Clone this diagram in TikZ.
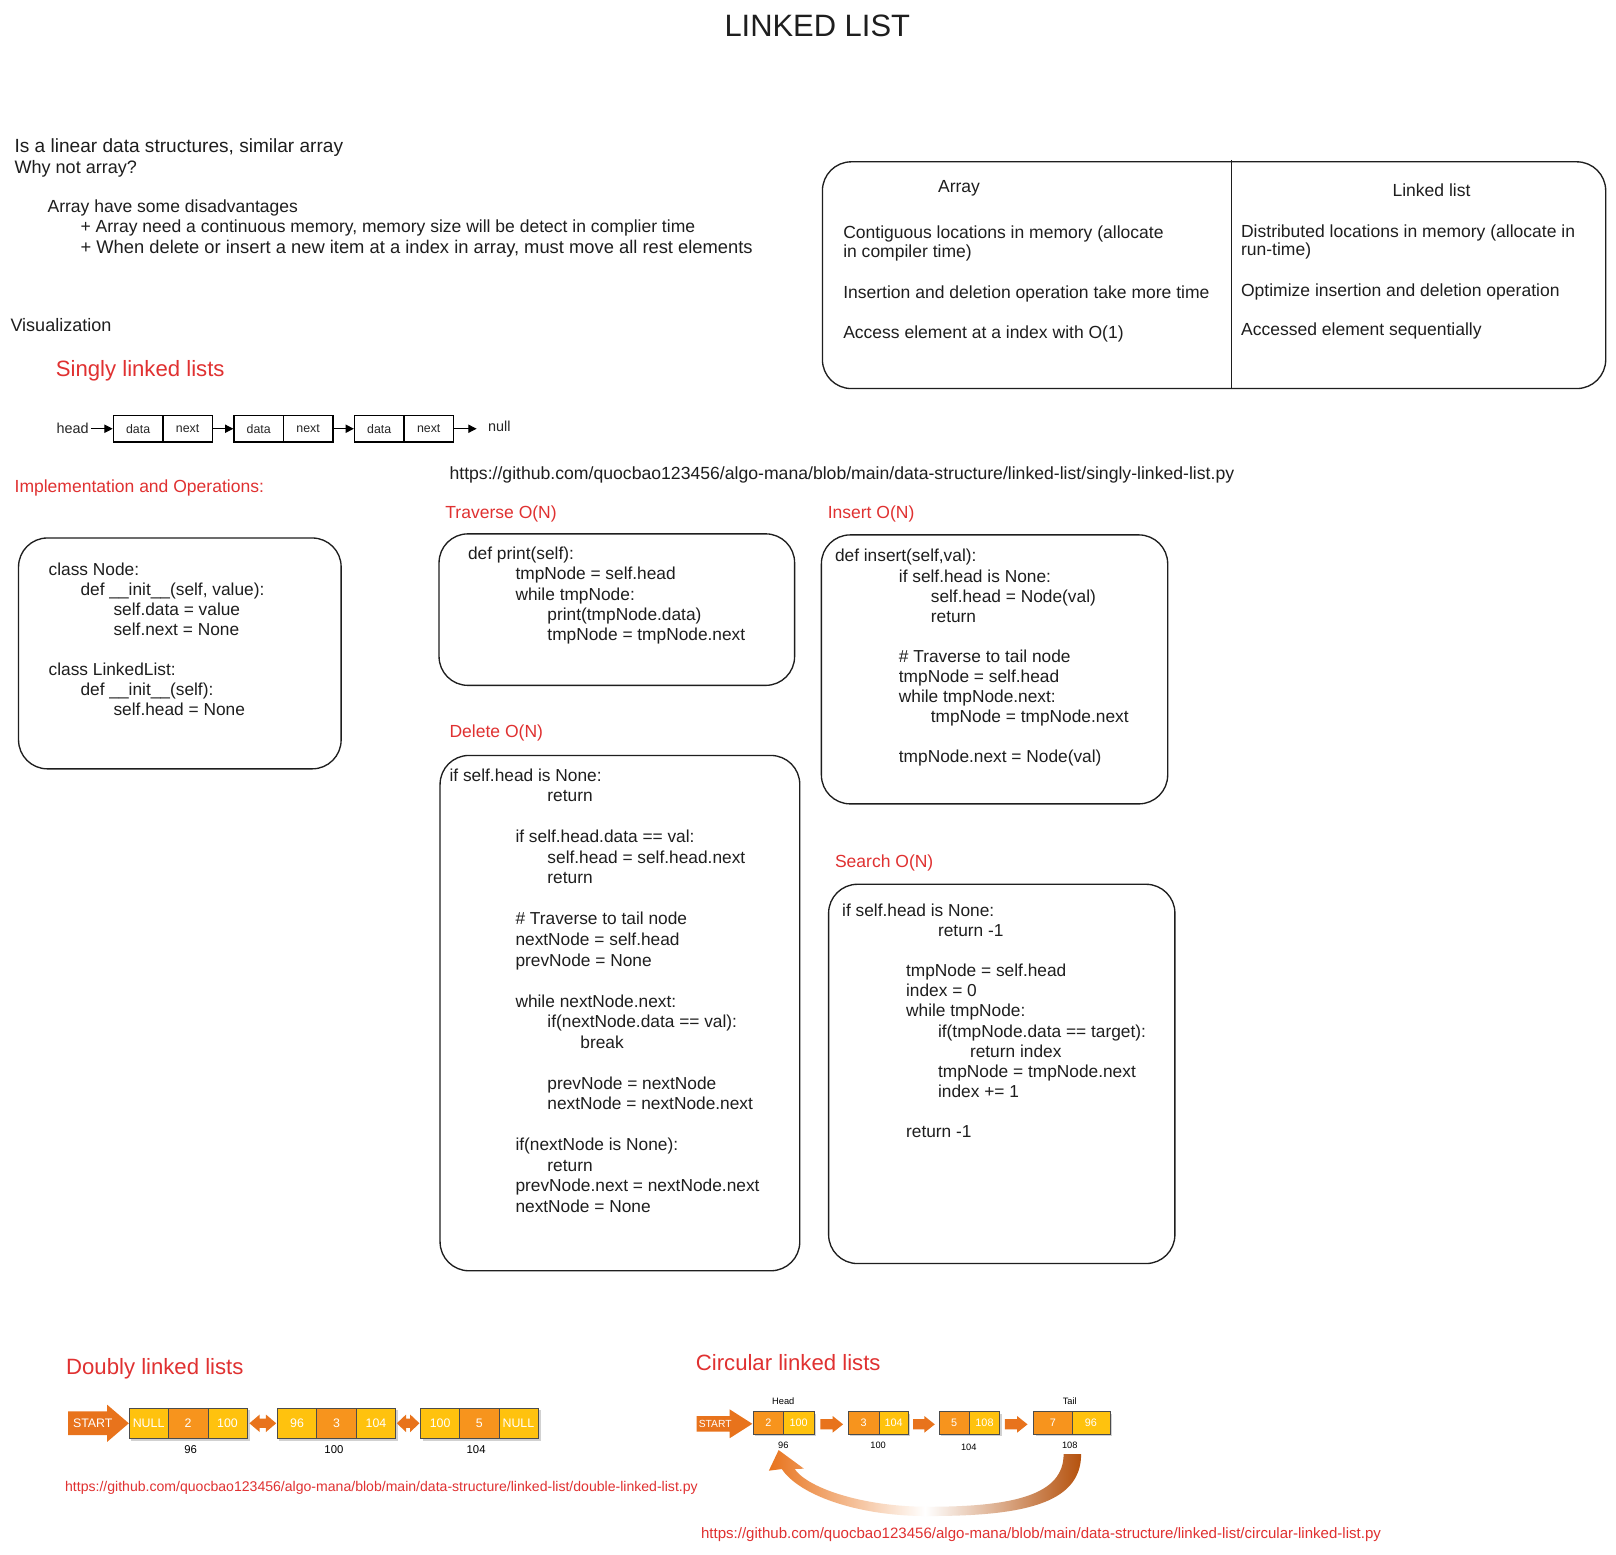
\documentclass[tikz,border=0pt]{standalone}
\usepackage{fontspec}
\setmainfont{Liberation Sans}
\usetikzlibrary{arrows.meta}
\definecolor{exred}{HTML}{E03131}
\definecolor{ink}{HTML}{1E1E1E}
\definecolor{llyellow}{HTML}{FFC20E}
\definecolor{llorange}{HTML}{F7941D}
\definecolor{llarrow}{HTML}{E8731C}
\definecolor{lldark}{HTML}{B5520E}
\newcommand{\fs}[2]{\fontsize{#1}{#2}\selectfont}
\newcommand{\ind}[1]{\hspace*{#1pt}}
% block arrow: x1, xtip, yc, halfbody, halfhead, headlen
\newcommand{\barrow}[6]{\fill[llarrow] (#1,{#3-#4}) -- ({#2-#6},{#3-#4}) -- ({#2-#6},{#3-#5}) -- (#2,#3) -- ({#2-#6},{#3+#5}) -- ({#2-#6},{#3+#4}) -- (#1,{#3+#4}) -- cycle;}
\newcommand{\dbarrow}[6]{\fill[llarrow] (#1,#3) -- ({#1+#6},{#3-#5}) -- ({#1+#6},{#3-#4}) -- ({#2-#6},{#3-#4}) -- ({#2-#6},{#3-#5}) -- (#2,#3) -- ({#2-#6},{#3+#5}) -- ({#2-#6},{#3+#4}) -- ({#1+#6},{#3+#4}) -- ({#1+#6},{#3+#5}) -- cycle;}
\tikzset{
 txt/.style={anchor=base west, inner sep=0pt, text=ink, font=\fs{17.5}{20}},
 tbl/.style={anchor=base west, inner sep=0pt, text=ink, font=\fs{17}{20}},
 redlbl/.style={anchor=base west, inner sep=0pt, text=exred, font=\fs{17}{20}},
 bigred/.style={anchor=base west, inner sep=0pt, text=exred, font=\fs{21.5}{24}},
 codeblk/.style={anchor=north west, inner sep=0pt, align=left, text=ink, font=\fs{16.8}{19.5}},
 panel/.style={draw=ink, line width=1.3pt, rounded corners=28pt},
 scell/.style={draw=black, line width=1.3pt, minimum width=48pt, minimum height=26pt, inner sep=0pt, font=\fs{12}{14}, text=black!85},
 sarrow/.style={-{Triangle[length=8pt,width=8pt]}, line width=1pt, black},
 ycell/.style={fill=llyellow, draw=black!70, line width=0.6pt, text=white, inner sep=0pt, minimum height=30pt, font=\fs{12}{14}},
 ocell/.style={ycell, fill=llorange},
 cycell/.style={ycell, minimum height=22pt, font=\fs{10.5}{12}},
 cocell/.style={cycell, fill=llorange},
 small/.style={inner sep=0pt, text=black, font=\fs{11}{13}},
 tiny/.style={inner sep=0pt, text=black, font=\fs{9}{11}},
}
\begin{document}
\begin{tikzpicture}[x=1pt,y=-1pt]
\fill[white] (0,0) rectangle (1568,1508);
\useasboundingbox (0,0) rectangle (1568,1508);

% title
\node[inner sep=0pt, text=ink, font=\fs{30}{34}] (title) at (793,25) {LINKED LIST};

% intro
\node[txt, font=\fs{18.5}{20}] (t1) at (14,148) {Is a linear data structures, similar array};
\node[txt] (t2) at (14,168) {Why not array?};
\node[txt, font=\fs{17}{20}] (t3) at (46,206) {Array have some disadvantages};
\node[txt, font=\fs{17}{20}] (t4) at (78,226) {+ Array need a continuous memory, memory size will be detect in complier time};
\node[txt, font=\fs{17.8}{20}] (t5) at (78,246) {+ When delete or insert a new item at a index in array, must move all rest elements};
\node[txt] (vis) at (10,322) {Visualization};
\node[bigred] (singly) at (54,365) {Singly linked lists};

% comparison table
\draw[panel] (798,157) rectangle (1558,377);
\draw[ink, line width=1.3pt] (1195,155) -- (1195,377);
\node[tbl] (a0) at (910,187) {Array};
\node[tbl] (a1) at (818,231) {Contiguous locations in memory (allocate};
\node[tbl] (a2) at (818,250) {in compiler time)};
\node[tbl] (a3) at (818,290) {Insertion and deletion operation take more time};
\node[tbl] (a4) at (818,328) {Access element at a index with O(1)};
\node[tbl] (l0) at (1351,191) {Linked list};
\node[tbl] (l1) at (1204,230) {Distributed locations in memory (allocate in};
\node[tbl] (l2) at (1204,248) {run-time)};
\node[tbl] (l3) at (1204,288) {Optimize insertion and deletion operation};
\node[tbl] (l4) at (1204,326) {Accessed element sequentially};

% singly linked list
\node[inner sep=2pt, font=\fs{14}{16}, text=black!85] (head) at (70.5,416) {head};
\node[scell] (d1) at (134,416) {data};
\node[scell] (n1) at (182,416) {next};
\node[scell] (d2) at (251,416) {data};
\node[scell] (n2) at (299,416) {next};
\node[scell] (d3) at (368,416) {data};
\node[scell] (n3) at (416,416) {next};
\node[inner sep=1.5pt, font=\fs{14}{16}, text=black!85] (null) at (484.5,414) {null};
\draw[sarrow] (head.east) -- (d1.west);
\draw[sarrow] (n1.east) -- (d2.west);
\draw[sarrow] (n2.east) -- (d3.west);
\draw[sarrow, shorten >=9.5pt] (n3.east) -- (null.west |- n3.east);

\node[redlbl] (impl) at (14,478) {Implementation and Operations:};
\node[txt, font=\fs{17.1}{20}] (url1) at (436,465) {https://github.com/quocbao123456/algo-mana/blob/main/data-structure/linked-list/singly-linked-list.py};

% class box
\draw[panel] (18,522) rectangle (331,746);
\node[codeblk] (classcode) at (47,544.35) {%
\ind{0}class Node:\strut\\
\ind{31}def \_\_init\_\_(self, value):\\
\ind{63}self.data = value\\
\ind{63}self.next = None\\[19.5pt]
\ind{0}class LinkedList:\\
\ind{31}def \_\_init\_\_(self):\\
\ind{63}self.head = None};

% traverse
\node[redlbl] (travl) at (432,503) {Traverse O(N)};
\draw[panel] (426,518) rectangle (771,665);
\node[codeblk] (travcode) at (454,529.35) {%
\ind{0}def print(self):\strut\\
\ind{46}tmpNode = self.head\\
\ind{46}while tmpNode:\\
\ind{77}print(tmpNode.data)\\
\ind{77}tmpNode = tmpNode.next};

% insert
\node[redlbl] (insl) at (803,503) {Insert O(N)};
\draw[panel] (797,519) rectangle (1133,780);
\node[codeblk] (inscode) at (810,531.35) {%
\ind{0}def insert(self,val):\strut\\
\ind{62}if self.head is None:\\
\ind{93}self.head = Node(val)\\
\ind{93}return\\[19.5pt]
\ind{62}\# Traverse to tail node\\
\ind{62}tmpNode = self.head\\
\ind{62}while tmpNode.next:\\
\ind{93}tmpNode = tmpNode.next\\[19.5pt]
\ind{62}tmpNode.next = Node(val)};

% delete
\node[redlbl] (dell) at (436,716) {Delete O(N)};
\draw[panel] (427,733) rectangle (776,1233);
\node[codeblk, font=\fs{16.8}{19.9}] (delcode) at (436,744.07) {%
\ind{0}if self.head is None:\strut\\
\ind{95}return\\[19.9pt]
\ind{64}if self.head.data == val:\\
\ind{95}self.head = self.head.next\\
\ind{95}return\\[19.9pt]
\ind{64}\# Traverse to tail node\\
\ind{64}nextNode = self.head\\
\ind{64}prevNode = None\\[19.9pt]
\ind{64}while nextNode.next:\\
\ind{95}if(nextNode.data == val):\\
\ind{127}break\\[19.9pt]
\ind{95}prevNode = nextNode\\
\ind{95}nextNode = nextNode.next\\[19.9pt]
\ind{64}if(nextNode is None):\\
\ind{95}return\\
\ind{64}prevNode.next = nextNode.next\\
\ind{64}nextNode = None};

% search
\node[redlbl] (srchl) at (810,842) {Search O(N)};
\draw[panel] (804,858) rectangle (1140,1226);
\node[codeblk] (srchcode) at (817,875.35) {%
\ind{0}if self.head is None:\strut\\
\ind{93}return -1\\[19.5pt]
\ind{62}tmpNode = self.head\\
\ind{62}index = 0\\
\ind{62}while tmpNode:\\
\ind{93}if(tmpNode.data == target):\\
\ind{124}return index\\
\ind{93}tmpNode = tmpNode.next\\
\ind{93}index += 1\\[19.5pt]
\ind{62}return -1};

% doubly linked list
\node[bigred] (doubly) at (64,1334) {Doubly linked lists};
\fill[black!18] (127,1368) rectangle (242.5,1398.5);
\fill[black!18] (271,1368) rectangle (386.5,1398.5);
\fill[black!18] (410,1368) rectangle (524.5,1398.5);
\barrow{66}{125}{1381}{11.5}{18}{21}
\node[inner sep=0pt, text=white, font=\fs{12}{14}] (dstart) at (90,1381) {START};
\node[ycell, minimum width=38.3pt] (da1) at (144.2,1381) {NULL};
\node[ocell, minimum width=38.3pt] (da2) at (182.5,1381) {2};
\node[ycell, minimum width=38.3pt] (da3) at (220.8,1381) {100};
\dbarrow{242}{268}{1381}{4.5}{8.5}{10}
\node[ycell, minimum width=38.3pt] (db1) at (288.2,1381) {96};
\node[ocell, minimum width=38.3pt] (db2) at (326.5,1381) {3};
\node[ycell, minimum width=38.3pt] (db3) at (364.8,1381) {104};
\dbarrow{385}{407}{1381}{4.5}{8.5}{9}
\node[ycell, minimum width=38pt] (dc1) at (427,1381) {100};
\node[ocell, minimum width=38pt] (dc2) at (465,1381) {5};
\node[ycell, minimum width=38pt] (dc3) at (503,1381) {NULL};
\node[small] (dl1) at (185,1407) {96};
\node[small] (dl2) at (324,1407) {100};
\node[small] (dl3) at (462,1407) {104};
\node[anchor=base west, inner sep=0pt, text=exred, font=\fs{13.65}{16}] (url2) at (63,1447) {https://github.com/quocbao123456/algo-mana/blob/main/data-structure/linked-list/double-linked-list.py};

% circular linked list
\node[bigred] (circ) at (675,1330) {Circular linked lists};
\fill[black!18] (733,1372) rectangle (792,1393.5);
\fill[black!18] (825,1372) rectangle (883,1393.5);
\fill[black!18] (913,1372) rectangle (972,1393.5);
\fill[black!18] (1005,1372) rectangle (1079,1393.5);
\barrow{676}{730}{1381.5}{7.5}{14}{22}
\node[inner sep=0pt, text=white, font=\fs{10}{12}] (cstart) at (694,1381.5) {START};
\node[cocell, minimum width=29pt] (ca1) at (745.5,1380.5) {2};
\node[cycell, minimum width=30pt] (ca2) at (775,1380.5) {100};
\barrow{796}{818}{1382}{5}{8}{10}
\node[cocell, minimum width=30pt] (cb1) at (838,1380.5) {3};
\node[cycell, minimum width=28pt] (cb2) at (867,1380.5) {104};
\barrow{886}{907}{1382}{5}{8}{10}
\node[cocell, minimum width=29.5pt] (cc1) at (925.75,1380.5) {5};
\node[cycell, minimum width=29.5pt] (cc2) at (955.25,1380.5) {108};
\barrow{975}{997}{1382}{5}{8}{10}
\node[cocell, minimum width=37pt] (cd1) at (1021.5,1380.5) {7};
\node[cycell, minimum width=37pt] (cd2) at (1058.5,1380.5) {96};
\node[tiny] (chead) at (760,1360) {Head};
\node[tiny] (ctail) at (1038,1360) {Tail};
\node[tiny] (cl1) at (760,1402) {96};
\node[tiny] (cl2) at (852,1402) {100};
\node[tiny] (cl3) at (940,1404) {104};
\node[tiny] (cl4) at (1038,1402) {108};
% curved return arrow
\shade[left color=llarrow, right color=lldark, middle color=white]
  (1049,1411) .. controls (1049,1460) and (990,1471) .. (900,1471)
  .. controls (830,1471) and (775,1450) .. (758.6,1425.4)
  -- (746,1427) -- (755.5,1407) -- (780,1425) -- (771,1425.4)
  .. controls (785,1445) and (840,1462) .. (900,1462)
  .. controls (985,1462) and (1032,1450) .. (1032,1411) -- cycle;
\node[anchor=base west, inner sep=0pt, text=exred, font=\fs{14.6}{16}] (url3) at (680,1493) {https://github.com/quocbao123456/algo-mana/blob/main/data-structure/linked-list/circular-linked-list.py};
\end{tikzpicture}
\end{document}
